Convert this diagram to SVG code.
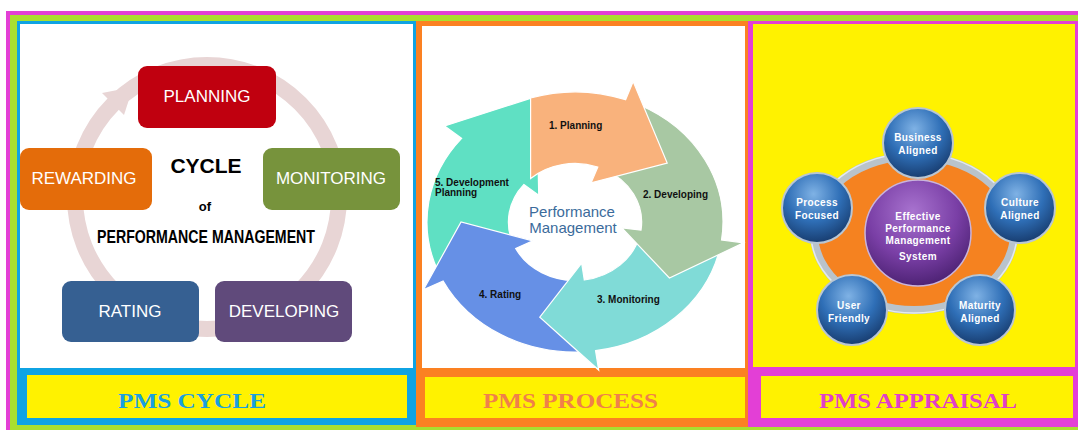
<svg xmlns="http://www.w3.org/2000/svg" width="1078" height="430" viewBox="0 0 1078 430">
<defs>
<style>
.box text{font-family:"Liberation Sans",Arial,sans-serif;font-size:17px;fill:#ffffff;text-anchor:middle}
.title{font-family:"Liberation Serif","Times New Roman",serif;font-weight:bold;font-size:21px}
.lbl{font-family:"Liberation Sans",Arial,sans-serif;font-weight:bold;font-size:10px;fill:#111}
.bt{font-family:"Liberation Sans",Arial,sans-serif;font-weight:bold;font-size:10px;fill:#ffffff;text-anchor:middle;letter-spacing:0.4px}
.arr{stroke:#ffffff;stroke-width:1.2;vector-effect:non-scaling-stroke}
</style>
<radialGradient id="gBlue" cx="45%" cy="30%" r="70%">
<stop offset="0" stop-color="#7fb2e5"/>
<stop offset="0.55" stop-color="#2f6fb7"/>
<stop offset="1" stop-color="#183d70"/>
</radialGradient>
<radialGradient id="gPurple" cx="45%" cy="30%" r="70%">
<stop offset="0" stop-color="#a873cf"/>
<stop offset="0.6" stop-color="#7a3fa6"/>
<stop offset="1" stop-color="#4e2375"/>
</radialGradient>
</defs>
<rect width="1078" height="430" fill="#ffffff"/>
<rect x="6" y="11" width="1072" height="419" fill="#e33fd6"/>
<rect x="10" y="15" width="1068" height="415" fill="#a9df2f"/>

<!-- Panel 1 frame -->
<g id="panel-cycle">
<rect x="17" y="21" width="400" height="404" fill="#0fa3e3"/>
<rect x="20" y="24" width="393" height="344" fill="#ffffff"/>
<rect x="27" y="375" width="380" height="43" fill="#fff200"/>
<text class="title" x="118" y="408" fill="#1a9fe0" textLength="148" lengthAdjust="spacingAndGlyphs">PMS CYCLE</text>
</g>
<!-- Panel 2 frame -->
<g id="panel-process">
<rect x="416" y="21" width="332" height="406" fill="#fb8122"/>
<rect x="422" y="26" width="323" height="342" fill="#ffffff"/>
<rect x="425" y="377" width="320" height="41" fill="#fff200"/>
<text class="title" x="483" y="408" fill="#f0804a" textLength="175" lengthAdjust="spacingAndGlyphs">PMS PROCESS</text>
</g>
<!-- Panel 3 frame -->
<g id="panel-appraisal">
<rect x="748" y="21" width="330" height="406" fill="#e33fd6"/>
<rect x="753" y="24" width="322" height="343" fill="#fff200"/>
<rect x="761" y="376" width="312" height="42" fill="#fff200"/>
<text class="title" x="819" y="408" fill="#e040c8" textLength="198" lengthAdjust="spacingAndGlyphs">PMS APPRAISAL</text>
</g>

<g id="connectors">
<circle cx="207" cy="197" r="132" fill="none" stroke="#e8d5d5" stroke-width="16"/>
<polygon points="102,93 124,115 133,87" fill="#e8d5d5"/>
<ellipse cx="914" cy="233" rx="100" ry="77" fill="#f58220" stroke="#b9c3cb" stroke-width="8"/>
<ellipse cx="914" cy="233" rx="103" ry="80" fill="none" stroke="#e4eaee" stroke-width="1.5"/>
</g>

<g id="center-text-cycle" font-family="'Liberation Sans',Arial,sans-serif" font-weight="bold" fill="#000" text-anchor="middle">
<text x="206" y="173" font-size="21">CYCLE</text>
<text x="205" y="211" font-size="13">of</text>
<text x="206" y="243" font-size="19" textLength="218" lengthAdjust="spacingAndGlyphs">PERFORMANCE MANAGEMENT</text>
</g>

<g id="planning" class="box"><rect x="138" y="66" width="138" height="62" rx="9" fill="#c0000f"/><text x="207" y="102">PLANNING</text></g>
<g id="rewarding" class="box"><rect x="20" y="148" width="132" height="62" rx="9" fill="#e46c0a"/><text x="84" y="184">REWARDING</text></g>
<g id="monitoring" class="box"><rect x="263" y="148" width="137" height="62" rx="9" fill="#77933c"/><text x="331" y="184">MONITORING</text></g>
<g id="rating" class="box"><rect x="62" y="281" width="137" height="61" rx="9" fill="#366092"/><text x="130" y="317">RATING</text></g>
<g id="developing" class="box"><rect x="215" y="281" width="137" height="61" rx="9" fill="#604a7b"/><text x="284" y="317">DEVELOPING</text></g>

<!-- Panel 2 arrows -->
<g transform="translate(575,222) scale(1.48,1.3)">
<path id="arrow-devplanning" class="arr" fill="#5fe0c3" d="M -92.7 37.5 A 100 100 0 0 1 -76.6 -64.3 L -88.1 -73.9 L -25.9 -96.6 L -24.5 -20.6 L -34.5 -28.9 A 45 45 0 0 0 -41.7 16.9 Z"/>
<path id="arrow-rating" class="arr" fill="#6690e6" d="M 5.2 99.9 A 100 100 0 0 1 -89.1 45.4 L -102.5 52.2 L -77 0 L -28.5 14.5 L -40.1 20.4 A 45 45 0 0 0 2.4 44.9 Z"/>
<path id="arrow-monitoring" class="arr" fill="#80dbd7" d="M 97.4 22.5 A 100 100 0 0 1 13.9 99.0 L 16.0 113.9 L -23.8 73.2 L 4.5 31.7 L 6.3 44.6 A 45 45 0 0 0 43.8 10.1 Z"/>
<path id="arrow-developing" class="arr" fill="#a8c8a3" d="M 42.3 -90.6 A 100 100 0 0 1 99.0 13.9 L 113.9 16.0 L 63.8 43.1 L 31.7 4.5 L 44.6 6.3 A 45 45 0 0 0 19.0 -40.8 Z"/>
<path id="arrow-planning" class="arr" fill="#f9b27c" d="M -30 -95.4 A 100 100 0 0 1 34.2 -94.0 L 39.3 -108.1 L 62.3 -45.3 L 10.9 -30.1 L 15.4 -42.3 A 45 45 0 0 0 -30 -33.5 Z"/>
</g>
<g id="process-labels">
<text class="lbl" x="549" y="129">1. Planning</text>
<text class="lbl" x="643" y="198">2. Developing</text>
<text class="lbl" x="597" y="303">3. Monitoring</text>
<text class="lbl" x="479" y="298">4. Rating</text>
<text class="lbl" x="435" y="186" font-size="9">5. Development</text>
<text class="lbl" x="435" y="196" font-size="9">Planning</text>
<g id="pm-center" font-family="'Liberation Sans',Arial,sans-serif" font-size="15" fill="#3b6b9b" text-anchor="middle">
<text x="572" y="217">Performance</text>
<text x="573" y="233">Management</text>
</g>
</g>

<!-- Panel 3 circles -->
<g id="effective-pms">
<circle cx="918" cy="233" r="53" fill="url(#gPurple)" stroke="#c9b4dc" stroke-width="1.5"/>
<text class="bt" x="918" y="220">Effective</text>
<text class="bt" x="918" y="232">Performance</text>
<text class="bt" x="918" y="244">Management</text>
<text class="bt" x="918" y="260">System</text>
</g>
<g id="business-aligned">
<circle cx="918" cy="143" r="35" fill="url(#gBlue)" stroke="#b9c6d3" stroke-width="2"/>
<text class="bt" x="918" y="141">Business</text><text class="bt" x="918" y="154">Aligned</text>
</g>
<g id="process-focused">
<circle cx="817" cy="208" r="35" fill="url(#gBlue)" stroke="#b9c6d3" stroke-width="2"/>
<text class="bt" x="817" y="206">Process</text><text class="bt" x="817" y="219">Focused</text>
</g>
<g id="culture-aligned">
<circle cx="1020" cy="208" r="35" fill="url(#gBlue)" stroke="#b9c6d3" stroke-width="2"/>
<text class="bt" x="1020" y="206">Culture</text><text class="bt" x="1020" y="219">Aligned</text>
</g>
<g id="user-friendly">
<circle cx="852" cy="310" r="35" fill="url(#gBlue)" stroke="#b9c6d3" stroke-width="2"/>
<text class="bt" x="849" y="309">User</text><text class="bt" x="849" y="322">Friendly</text>
</g>
<g id="maturity-aligned">
<circle cx="980" cy="310" r="35" fill="url(#gBlue)" stroke="#b9c6d3" stroke-width="2"/>
<text class="bt" x="980" y="309">Maturity</text><text class="bt" x="980" y="322">Aligned</text>
</g>
</svg>
